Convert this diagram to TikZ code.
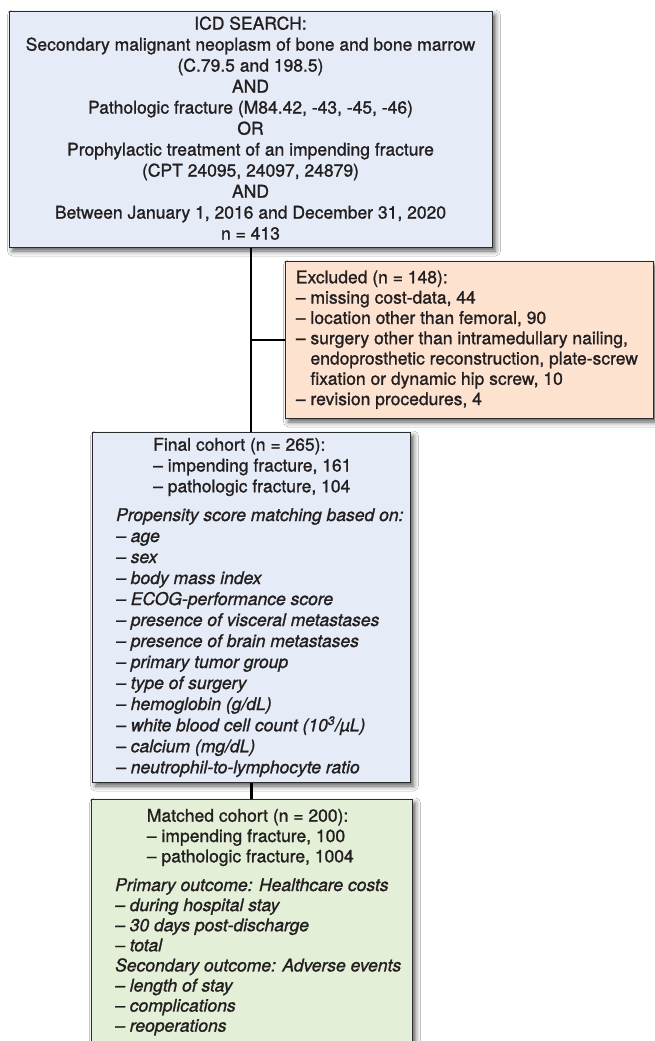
\documentclass[tikz,border=0pt]{standalone}
\usepackage{fontspec}
\setmainfont{TeX Gyre Heros}[UprightFeatures={FakeBold=1.2}, ItalicFeatures={FakeBold=1.2}]
\usetikzlibrary{shadows.blur}
\definecolor{bluefill}{HTML}{E6ECF7}
\definecolor{peachfill}{HTML}{FDE2D0}
\definecolor{greenfill}{HTML}{E4EFD7}
\definecolor{boxline}{HTML}{2B2B2B}
\definecolor{textcol}{HTML}{231F20}
\begin{document}
\begin{tikzpicture}[x=1pt,y=1pt,
  box/.style={draw=boxline, line width=1pt, inner sep=0pt, anchor=north west,
    blur shadow={shadow xshift=3pt, shadow yshift=-3.5pt, shadow blur radius=5pt, shadow opacity=65}},
  txt/.style={inner sep=0pt, text=textcol},
  conn/.style={line width=2.6pt, draw=black}]
\useasboundingbox[fill=white] (0,0) rectangle (655,-1041);

% boxes
\node[box, fill=bluefill, minimum width=483pt, minimum height=236pt] (search) at (9,-11) {};
\node[box, fill=peachfill, minimum width=368pt, minimum height=157pt] (excl) at (285,-261) {};
\node[box, fill=bluefill, minimum width=318pt, minimum height=350pt] (final) at (92,-432) {};
\node[box, fill=greenfill, minimum width=321pt, minimum height=270pt] (matched) at (91,-799) {};

% connectors
\draw[conn] (search.south) -- (search.south |- final.north);
\draw[conn] (excl.west) -- (excl.west -| search.south);
\draw[conn] (final.south) -- (final.south |- matched.north);

% texts
\node[txt, anchor=base, font=\fontsize{17.5}{21}\selectfont] (t1) at (250.5,-29.6) {\begin{tabular}[t]{@{}c@{}}
ICD SEARCH:\\
Secondary malignant neoplasm of bone and bone marrow\\
(C.79.5 and 198.5)\\
AND\\
Pathologic fracture (M84.42, -43, -45, -46)\\
OR\\
Prophylactic treatment of an impending fracture\\
(CPT 24095, 24097, 24879)\\
AND\\
Between January 1, 2016 and December 31, 2020\\
n = 413
\end{tabular}};

\node[txt, anchor=base west, font=\fontsize{17.5}{20.3}\selectfont] (t2) at (295.7,-283.3) {\begin{tabular}[t]{@{}l@{}}
Excluded (n = 148):\\
– missing cost-data, 44\\
– location other than femoral, 90\\
– surgery other than intramedullary nailing,\\
\phantom{– }endoprosthetic reconstruction, plate-screw\\
\phantom{– }fixation or dynamic hip screw, 10\\
– revision procedures, 4
\end{tabular}};

\node[txt, anchor=base west, font=\fontsize{17.5}{20.8}\selectfont] (t3) at (153,-450.7) {\begin{tabular}[t]{@{}l@{}}
Final cohort (n = 265):\\
– impending fracture, 161\\
– pathologic fracture, 104
\end{tabular}};

\node[txt, anchor=base west, font=\fontsize{17.5}{21}\selectfont\itshape] (t4) at (116,-521) {\begin{tabular}[t]{@{}l@{}}
Propensity score matching based on:\\
– age\\
– sex\\
– body mass index\\
– ECOG-performance score\\
– presence of visceral metastases\\
– presence of brain metastases\\
– primary tumor group\\
– type of surgery\\
– hemoglobin (g/dL)\\
– white blood cell count (10\textsuperscript{3}/µL)\\
– calcium (mg/dL)\\
– neutrophil-to-lymphocyte ratio
\end{tabular}};

\node[txt, anchor=base west, font=\fontsize{17.5}{20.3}\selectfont] (t5) at (146.7,-821.7) {\begin{tabular}[t]{@{}l@{}}
Matched cohort (n = 200):\\
– impending fracture, 100\\
– pathologic fracture, 1004
\end{tabular}};

\node[txt, anchor=base west, font=\fontsize{17.5}{20.1}\selectfont\itshape] (t6) at (115,-891) {\begin{tabular}[t]{@{}l@{}}
Primary outcome: Healthcare costs\\
– during hospital stay\\
– 30 days post-discharge\\
– total\\
Secondary outcome: Adverse events\\
– length of stay\\
– complications\\
– reoperations
\end{tabular}};
\end{tikzpicture}
\end{document}
